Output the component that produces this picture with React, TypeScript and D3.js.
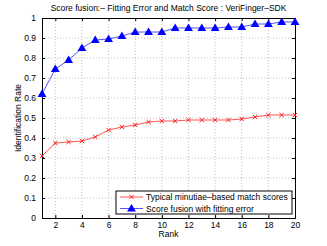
import { useEffect, useRef } from "react";
import * as d3 from "d3";

const W = 327;
const H = 246;
const margin = { top: 18, right: 32, bottom: 28, left: 42 };

const RANKS: number[] = d3.range(1, 21);
const TYPICAL: number[] = [0.31, 0.375, 0.38, 0.385, 0.405, 0.44, 0.455, 0.465, 0.48, 0.485, 0.485, 0.49, 0.49, 0.49, 0.49, 0.495, 0.505, 0.515, 0.515, 0.515];
const FUSION: number[] = [0.62, 0.745, 0.79, 0.85, 0.89, 0.895, 0.91, 0.93, 0.93, 0.93, 0.95, 0.95, 0.95, 0.95, 0.955, 0.955, 0.97, 0.97, 0.98, 0.98];
const X_TICKS: number[] = [2, 4, 6, 8, 10, 12, 14, 16, 18, 20];
const Y_TICKS: number[] = [0, 0.1, 0.2, 0.3, 0.4, 0.5, 0.6, 0.7, 0.8, 0.9, 1];
const LEGEND: string[] = ["Typical minutiae\u2013based match scores", "Score fusion with fitting error"];

const FONT = "Liberation Sans, Arial, sans-serif";

const App = () => {
  const svgRef = useRef<SVGSVGElement | null>(null);

  useEffect(() => {
    if (!svgRef.current) return;
    const svg = d3.select(svgRef.current);
    svg.selectAll("*").remove();

    const iw = W - margin.left - margin.right;
    const ih = H - margin.top - margin.bottom;

    const x = d3.scaleLinear().domain([1, 20]).range([0, iw]);
    const y = d3.scaleLinear().domain([0, 1]).range([ih, 0]);

    svg.append("rect").attr("width", W).attr("height", H).attr("fill", "#fff");

    const g = svg.append("g").attr("transform", `translate(${margin.left},${margin.top})`);

    // grid
    g.selectAll(".gx")
      .data(X_TICKS.slice(0, -1))
      .enter()
      .append("line")
      .attr("x1", (d) => x(d))
      .attr("x2", (d) => x(d))
      .attr("y1", 0)
      .attr("y2", ih)
      .attr("stroke", "#b0b0b0")
      .attr("stroke-width", 0.8)
      .attr("stroke-dasharray", "1,2");
    g.selectAll(".gy")
      .data(Y_TICKS.slice(1, -1))
      .enter()
      .append("line")
      .attr("x1", 0)
      .attr("x2", iw)
      .attr("y1", (d) => y(d))
      .attr("y2", (d) => y(d))
      .attr("stroke", "#b0b0b0")
      .attr("stroke-width", 0.8)
      .attr("stroke-dasharray", "1,2");

    // axes
    const xAxis = g
      .append("g")
      .attr("transform", `translate(0,${ih})`)
      .call(d3.axisBottom(x).tickValues(X_TICKS).tickSize(-3).tickPadding(4).tickFormat(d3.format("d")));
    const xTop = g.append("g").call(d3.axisTop(x).tickValues(X_TICKS).tickSize(-3).tickFormat(() => ""));
    const yAxis = g
      .append("g")
      .call(d3.axisLeft(y).tickValues(Y_TICKS).tickSize(-3).tickPadding(6).tickFormat((d) => String(+d)));
    const yRight = g
      .append("g")
      .attr("transform", `translate(${iw},0)`)
      .call(d3.axisRight(y).tickValues(Y_TICKS).tickSize(-3).tickFormat(() => ""));
    [xAxis, xTop, yAxis, yRight].forEach((a) => {
      a.select(".domain").attr("stroke", "#000").attr("stroke-width", 1);
      a.selectAll(".tick line").attr("stroke", "#000");
      a.selectAll("text").attr("font-family", FONT).attr("font-size", 8.5).attr("fill", "#000");
    });

    const line = d3
      .line<number>()
      .x((_, i) => x(RANKS[i]))
      .y((d) => y(d));

    g.append("path")
      .datum(TYPICAL)
      .attr("fill", "none")
      .attr("stroke", "#ff5555")
      .attr("stroke-width", 1)
      .attr("d", line);
    g.append("path")
      .datum(FUSION)
      .attr("fill", "none")
      .attr("stroke", "#5555ff")
      .attr("stroke-width", 1)
      .attr("d", line);

    const cross = d3.symbol().type(d3.symbolX).size(14);
    const tri = d3.symbol().type(d3.symbolTriangle).size(34);

    g.selectAll(".mr")
      .data(TYPICAL)
      .enter()
      .append("path")
      .attr("d", cross)
      .attr("transform", (d, i) => `translate(${x(RANKS[i])},${y(d)})`)
      .attr("fill", "none")
      .attr("stroke", "#ff2020")
      .attr("stroke-width", 1);
    g.selectAll(".mb")
      .data(FUSION)
      .enter()
      .append("path")
      .attr("d", tri)
      .attr("transform", (d, i) => `translate(${x(RANKS[i])},${y(d) + 0.5})`)
      .attr("fill", "#0000ff");

    // legend
    const lg = svg.append("g").attr("transform", "translate(116,191)");
    lg.append("rect")
      .attr("width", 176)
      .attr("height", 23)
      .attr("fill", "#fff")
      .attr("stroke", "#000")
      .attr("stroke-width", 1);
    LEGEND.forEach((label, i) => {
      const cy = 6 + i * 11.5;
      lg.append("line")
        .attr("x1", 4)
        .attr("x2", 27)
        .attr("y1", cy)
        .attr("y2", cy)
        .attr("stroke", i === 0 ? "#ff5555" : "#5555ff");
      if (i === 0) {
        lg.append("path")
          .attr("d", cross)
          .attr("transform", `translate(15.5,${cy})`)
          .attr("fill", "none")
          .attr("stroke", "#ff2020");
      } else {
        lg.append("path")
          .attr("d", tri)
          .attr("transform", `translate(15.5,${cy + 0.5})`)
          .attr("fill", "#0000ff");
      }
      lg.append("text")
        .attr("x", 30)
        .attr("y", cy + 3)
        .attr("font-family", FONT)
        .attr("font-size", 8.5)
        .text(label);
    });

    // labels
    svg.append("text")
      .attr("x", margin.left + iw / 2)
      .attr("y", 11)
      .attr("text-anchor", "middle")
      .attr("font-family", FONT)
      .attr("font-size", 8.5)
      .text("Score fusion:\u2013 Fitting Error and Match Score : VeriFinger\u2013SDK");
    svg.append("text")
      .attr("x", margin.left + iw / 2)
      .attr("y", 237)
      .attr("text-anchor", "middle")
      .attr("font-family", FONT)
      .attr("font-size", 8.5)
      .text("Rank");
    svg.append("text")
      .attr("transform", `translate(21,${margin.top + ih / 2}) rotate(-90)`)
      .attr("text-anchor", "middle")
      .attr("font-family", FONT)
      .attr("font-size", 8.5)
      .text("Identification Rate");
  }, []);

  return (
    <svg
      ref={svgRef}
      width={W}
      height={H}
      style={{ display: "block", position: "absolute", left: 0, top: 0 }}
    />
  );
};

export default App;
